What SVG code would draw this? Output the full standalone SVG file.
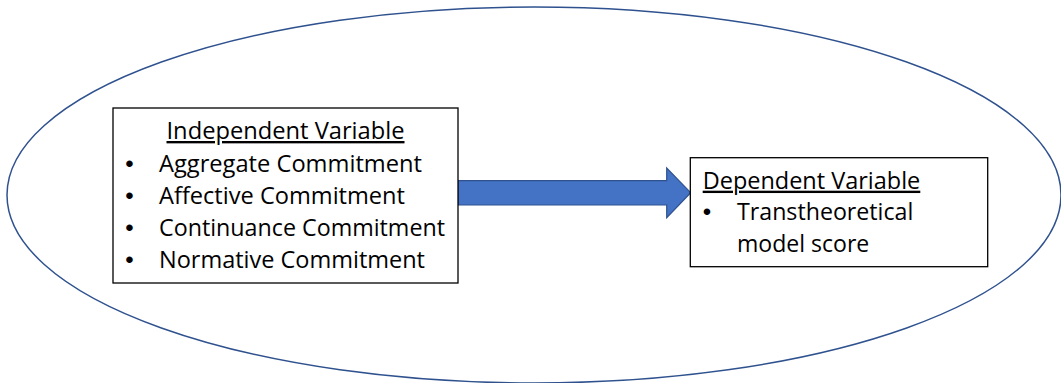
<svg xmlns="http://www.w3.org/2000/svg" width="1061" height="383" viewBox="0 0 1061 383">
  <style>
    .box { fill: #ffffff; stroke: #000000; stroke-width: 1.3; }
    .t { font-family: "Open Sans", "Liberation Sans", sans-serif; font-size: 23.5px; fill: #000000; }
    .b { font-family: "Liberation Sans", sans-serif; font-size: 24px; fill: #000000; text-anchor: middle; }
    .ul { text-decoration: underline; }
  </style>
  <rect width="1061" height="383" fill="#ffffff"/>
  <g id="boundary">
    <ellipse cx="534" cy="195" rx="527" ry="188" fill="none" stroke="#2F528F" stroke-width="1.5"/>
  </g>
  <g id="connectors">
    <path d="M458 180.7 H666.7 V168 L690.7 192.7 L666.7 217.7 V205 H458 Z" fill="#4472C4" stroke="#2F528F" stroke-width="1.2"/>
  </g>
  <g id="independent">
    <rect class="box" x="113" y="108" width="345" height="175"/>
    <text class="t ul" x="285.5" y="139" text-anchor="middle" textLength="238" lengthAdjust="spacingAndGlyphs">Independent Variable</text>
    <text class="b" x="129.5" y="172">•</text>
    <text class="t" x="159" y="172" textLength="263" lengthAdjust="spacingAndGlyphs">Aggregate Commitment</text>
    <text class="b" x="129.5" y="204">•</text>
    <text class="t" x="159" y="204" textLength="246" lengthAdjust="spacingAndGlyphs">Affective Commitment</text>
    <text class="b" x="129.5" y="236">•</text>
    <text class="t" x="159" y="236" textLength="286" lengthAdjust="spacingAndGlyphs">Continuance Commitment</text>
    <text class="b" x="129.5" y="268">•</text>
    <text class="t" x="159" y="268" textLength="266" lengthAdjust="spacingAndGlyphs">Normative Commitment</text>
  </g>
  <g id="dependent">
    <rect class="box" x="690.3" y="157.7" width="297.4" height="109"/>
    <text class="t ul" x="702.7" y="188.7" textLength="217.6" lengthAdjust="spacingAndGlyphs">Dependent Variable</text>
    <text class="b" x="707" y="220">•</text>
    <text class="t" x="737" y="220" textLength="176.3" lengthAdjust="spacingAndGlyphs">Transtheoretical</text>
    <text class="t" x="737" y="252" textLength="132.3" lengthAdjust="spacingAndGlyphs">model score</text>
  </g>
</svg>
